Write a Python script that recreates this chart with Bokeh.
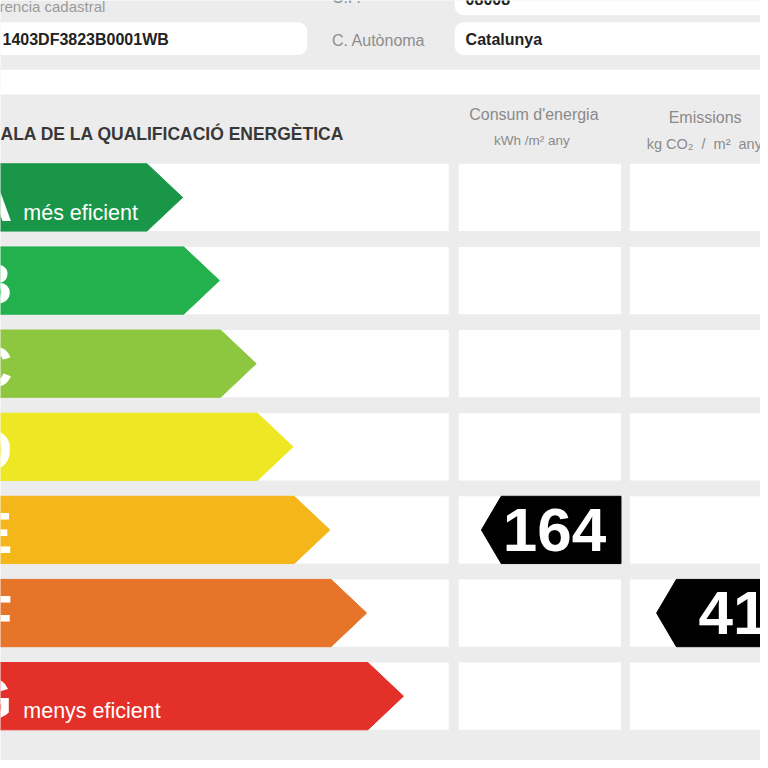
from bokeh.plotting import figure
from bokeh.models import Range1d, ColumnDataSource
from bokeh.embed import file_html
from bokeh.resources import INLINE
from bokeh.core.properties import value

# ---------------- data ----------------
ratings = ["A", "B", "C", "D", "E", "F", "G"]
rating_colors = ["#1a9648", "#22b14c", "#8dc63f", "#eee824", "#f4b619", "#e67429", "#e3312a"]
rating_notes = ["més eficient", "", "", "", "", "", "menys eficient"]
consum_value = 164
consum_rating = "E"
emissions_value = 41
emissions_rating = "F"
cadastral_ref = "1403DF3823B0001WB"
community = "Catalunya"
postal_code = "08008"

# ---------------- layout / style ----------------
SANS = "Liberation Sans"
BG = "#ececec"
H = 768
ROW0, PITCH, ROWH = 165, 84, 68
TIP0, TIP_STEP, TIP_DEPTH = 184, 37.2, 36
LEFT_R = 453
CONS_L, CONS_R = 463, 627
EMI_L, EMI_R = 636, 790
PTR_DEPTH = 20
MID = 0.35  # em-box middle above the baseline


def Y(v):
    """layout is measured top-down; convert to the plot's bottom-up y."""
    if isinstance(v, (list, tuple)):
        return [H - a for a in v]
    return H - v


p = figure(width=760, height=760, x_range=Range1d(0, 768), y_range=Range1d(0, H),
           output_backend="svg", toolbar_location=None, x_axis_type=None, y_axis_type=None,
           min_border=0, background_fill_color=BG, border_fill_color=BG,
           outline_line_color=None)
p.grid.visible = False


def label(x, base, s, size, color, bold=False, align="left"):
    p.text(x=[x], y=[Y(base - MID * size)], text=[s], text_font=value(SANS),
           text_font_size=f"{size}px", text_font_style="bold" if bold else "normal",
           text_color=color, text_align=align, text_baseline="middle")


# top info area
p.quad(left=[-40], right=[800], top=[Y(70)], bottom=[Y(95)], fill_color="white", line_color=None)
p.quad(left=[-40, 459, 459], right=[310, 800, 800], top=Y([22, -30, 22]), bottom=Y([55, 15, 55]),
       fill_color="white", line_color=None, border_radius=9)
label(-1, 11, "rencia cadastral", 15, "#9a9a9a")
label(335, 3, "C.P.", 16, "#8c8c8c")
label(470, 4, postal_code, 16, "#222222", bold=True)
label(2, 45, cadastral_ref, 16, "#222222", bold=True)
label(335, 46, "C. Autònoma", 16, "#8c8c8c")
label(470, 45, community, 16, "#222222", bold=True)

# headings
label(0, 141, "ALA DE LA QUALIFICACIÓ ENERGÈTICA", 17.5, "#383838", bold=True)
label(539, 121, "Consum d'energia", 16, "#8a8a8a", align="center")
label(537, 146, "kWh /m² any", 13.5, "#8a8a8a", align="center")
label(712, 124, "Emissions", 16, "#8a8a8a", align="center")
label(653, 150, "kg CO₂\u00a0 /\u00a0 m²\u00a0 any", 14.5, "#8a8a8a")

# rows
n = len(ratings)
tops = [ROW0 + i * PITCH for i in range(n)]
bots = [t + ROWH for t in tops]
mids = [t + ROWH / 2 for t in tops]
p.quad(left=[-40] * n, right=[LEFT_R] * n, top=Y(tops), bottom=Y(bots), fill_color="white", line_color=None)
p.quad(left=[CONS_L] * n, right=[CONS_R] * n, top=Y(tops), bottom=Y(bots), fill_color="white", line_color=None)
p.quad(left=[EMI_L] * n, right=[EMI_R + 20] * n, top=Y(tops), bottom=Y(bots), fill_color="white", line_color=None)

# rating arrows
xs, ys = [], []
for i in range(n):
    tip = TIP0 + i * TIP_STEP
    body = tip - TIP_DEPTH
    xs.append([-40, body, tip, body, -40])
    ys.append(Y([tops[i], tops[i], mids[i], bots[i], bots[i]]))
arrows = ColumnDataSource(dict(xs=xs, ys=ys, color=rating_colors))
p.patches("xs", "ys", source=arrows, fill_color="color", line_color="color", line_width=1,
          line_join="round")

LET = 58
letters = ColumnDataSource(dict(x=[12] * n, y=Y([t + 57 - MID * LET for t in tops]), text=ratings))
p.text("x", "y", text="text", source=letters, text_font=value(SANS), text_font_size=f"{LET}px",
       text_font_style="bold", text_color="white", text_align="right", text_baseline="middle")
NOTE = 21.5
notes = ColumnDataSource(dict(x=[23] * n, y=Y([t + 57 - MID * NOTE for t in tops]), text=rating_notes))
p.text("x", "y", text="text", source=notes, text_font=value(SANS), text_font_size=f"{NOTE}px",
       text_color="white", text_baseline="middle")


# pointers
def pointer(rating, val, left, right):
    i = ratings.index(rating)
    t, b, m = tops[i], bots[i], mids[i]
    tipx = left + 23
    p.patch([tipx, tipx + PTR_DEPTH, right, right, tipx + PTR_DEPTH], Y([m, t, t, b, b]),
            fill_color="black", line_color="black", line_join="round")
    label(right - 15, m + 22, str(val), 62, "white", bold=True, align="right")


pointer(consum_rating, consum_value, CONS_L, CONS_R)
pointer(emissions_rating, emissions_value, EMI_L + 4, EMI_R)

open("out.html", "w").write(file_html(p, INLINE))
